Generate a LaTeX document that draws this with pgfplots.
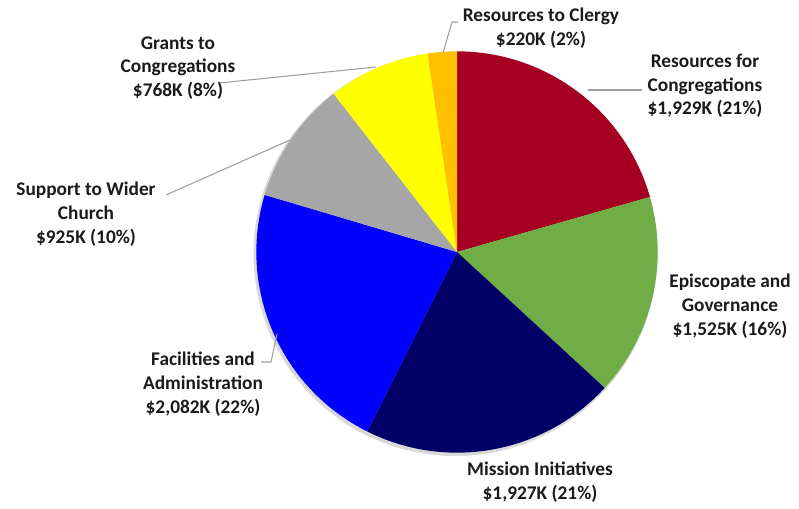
\documentclass[border=0pt]{standalone}
\usepackage{fontspec}
\setmainfont{Carlito}
\usepackage{pgfplots}
\usepackage{pgfplotstable}
\pgfplotsset{compat=1.18}

\definecolor{cRed}{HTML}{A50021}
\definecolor{cGreen}{HTML}{70AD47}
\definecolor{cNavy}{HTML}{000066}
\definecolor{cBlue}{HTML}{0000FF}
\definecolor{cGray}{HTML}{A6A6A6}
\definecolor{cYellow}{HTML}{FFFF00}
\definecolor{cOrange}{HTML}{FFC000}
\definecolor{txt}{HTML}{1A1A1A}

% budget in $K, clockwise from 12 o'clock
\pgfplotstableread{
value col
1929 cRed
1525 cGreen
1927 cNavy
2082 cBlue
925 cGray
768 cYellow
220 cOrange
}\piedata

\begin{document}
\begin{tikzpicture}[
  lbl/.style={align=center, inner sep=0pt, text=txt,
    font=\fontsize{14.5}{17.8}\selectfont\bfseries},
  lead/.style={draw=gray!75, line width=0.8pt}]

\pgfplotstablegetrowsof{\piedata}
\pgfmathtruncatemacro\nrows{\pgfplotsretval-1}
\def\total{0}
\pgfplotsforeachungrouped \i in {0,...,\nrows}{%
  \pgfplotstablegetelem{\i}{value}\of\piedata
  \pgfmathsetmacro\total{\total+\pgfplotsretval}%
}

\begin{axis}[hide axis, scale only axis,
  width=599.25pt, height=381pt,
  xmin=0, xmax=799, ymin=0, ymax=508, y dir=reverse,
  clip=false]
\addplot[draw=none] coordinates {(0,0) (799,508)};

% soft shadow
\fill[black!15] (axis cs:455.5,254) circle[radius=151.5pt];

\def\acc{0}
\pgfplotsforeachungrouped \i in {0,...,\nrows}{%
  \pgfplotstablegetelem{\i}{value}\of\piedata \let\v\pgfplotsretval
  \pgfplotstablegetelem{\i}{col}\of\piedata \let\c\pgfplotsretval
  \pgfmathsetmacro\aS{90-360*(\acc/\total)}%
  \pgfmathsetmacro\acc{\acc+\v}%
  \pgfmathsetmacro\aE{90-360*(\acc/\total)}%
  \edef\temp{\noexpand\fill[\c] (axis cs:457,252) -- ++(\aS:150.5pt)
    arc[start angle=\aS, end angle=\aE, radius=150.5pt] -- cycle;}%
  \temp
}

% leader lines
\draw[lead] (axis cs:443,53) -- (axis cs:452,22) -- (axis cs:458,22);
\draw[lead] (axis cs:588,90) -- (axis cs:642,90);
\draw[lead] (axis cs:376,67) -- (axis cs:219,83);
\draw[lead] (axis cs:290,140) -- (axis cs:166,195);
\draw[lead] (axis cs:277,334) -- (axis cs:271,362) -- (axis cs:261,362);

% labels
\node[lbl] at (axis cs:541,28) {Resources to Clergy\\\$220K (2\%)};
\node[lbl] at (axis cs:705,86) {Resources for\\Congregations\\\$1,929K (21\%)};
\node[lbl] at (axis cs:730,306) {Episcopate and\\Governance\\\$1,525K (16\%)};
\node[lbl] at (axis cs:540,482) {Mission Initiatives\\\$1,927K (21\%)};
\node[lbl] at (axis cs:203,384) {Facilities and\\Administration\\\$2,082K (22\%)};
\node[lbl] at (axis cs:86,214) {Support to Wider\\Church\\\$925K (10\%)};
\node[lbl] at (axis cs:178,68) {Grants to\\Congregations\\\$768K (8\%)};
\end{axis}
\end{tikzpicture}
\end{document}
